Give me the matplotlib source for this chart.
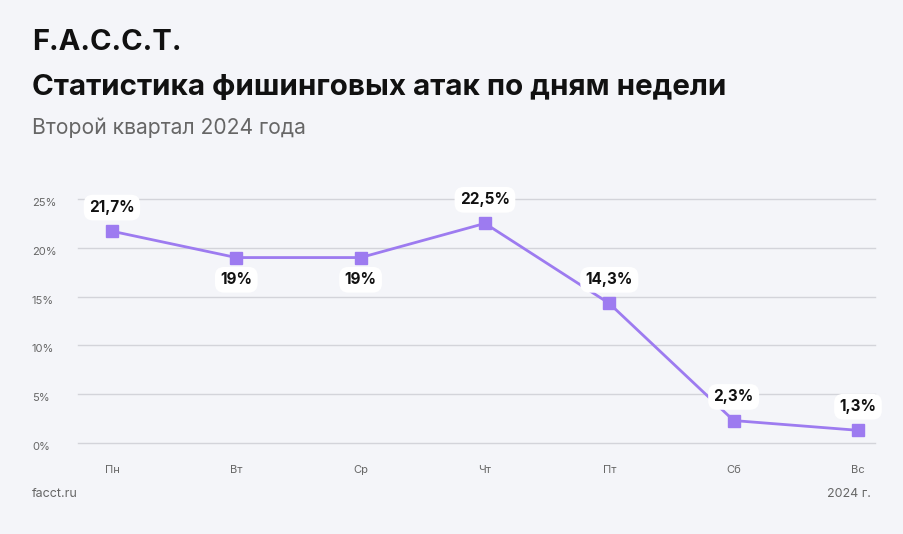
import matplotlib
matplotlib.use("Agg")
import matplotlib.pyplot as plt

days = ["Пн", "Вт", "Ср", "Чт", "Пт", "Сб", "Вс"]
values = [21.7, 19, 19, 22.5, 14.3, 2.3, 1.3]
labels = ["21,7%", "19%", "19%", "22,5%", "14,3%", "2,3%", "1,3%"]
label_below = [False, True, True, False, False, False, False]
yticks = [0, 5, 10, 15, 20, 25]

plt.rcParams['font.family'] = ['Inter', 'DejaVu Sans']
bg = "#f4f5f9"
fig = plt.figure(figsize=(9.04, 5.34), dpi=100, facecolor=bg)
W, H = 904, 534
ax = fig.add_axes([78/W, 1-443/H, (875-78)/W, (443-199)/H], facecolor=bg)
x = list(range(len(days)))
ax.set_xlim(-0.273, 6.137)
ax.set_ylim(0, 25)
for t in yticks:
    ax.axhline(t, color="#d3d4da", lw=1, zorder=0, clip_on=False)
for s in ax.spines.values():
    s.set_visible(False)
ax.set_xticks([]); ax.set_yticks([])
col = "#9d7bf0"
ax.plot(x, values, color=col, lw=2, marker="s", ms=9, zorder=3, clip_on=False)
for xi, v, l, b in zip(x, values, labels, label_below):
    ax.annotate(l, (xi, v), xytext=(0, -16 if b else 17), textcoords="offset points",
                ha="center", va="center", fontsize=11, fontweight="bold", color="#111",
                bbox=dict(boxstyle="round,pad=0.35,rounding_size=0.6", fc="white", ec="none"), zorder=4)
for t in yticks:
    fig.text(32/W, 1-(443-t*9.76+4)/H, f"{t}%", fontsize=8, color="#666", va="center")
for xi, d in zip(x, days):
    px = 78 + (xi + 0.273) * (797/6.41)
    fig.text(px/W, 1-470/H, d, fontsize=8, color="#666", ha="center", va="center")
fig.text(32/W, 1-42/H, "F.A.C.C.T.", fontsize=21, fontweight="bold", color="#111", va="center")
fig.text(32/W, 1-88/H, "Статистика фишинговых атак по дням недели", fontsize=21.3, fontweight="bold", color="#111", va="center")
fig.text(32/W, 1-128/H, "Второй квартал 2024 года", fontsize=15.2, color="#666", va="center")
fig.text(32/W, 1-494/H, "facct.ru", fontsize=9, color="#666", va="center")
fig.text(871/W, 1-494/H, "2024 г.", fontsize=9, color="#666", va="center", ha="right")
fig.savefig("out.png", dpi=100, facecolor=bg)
